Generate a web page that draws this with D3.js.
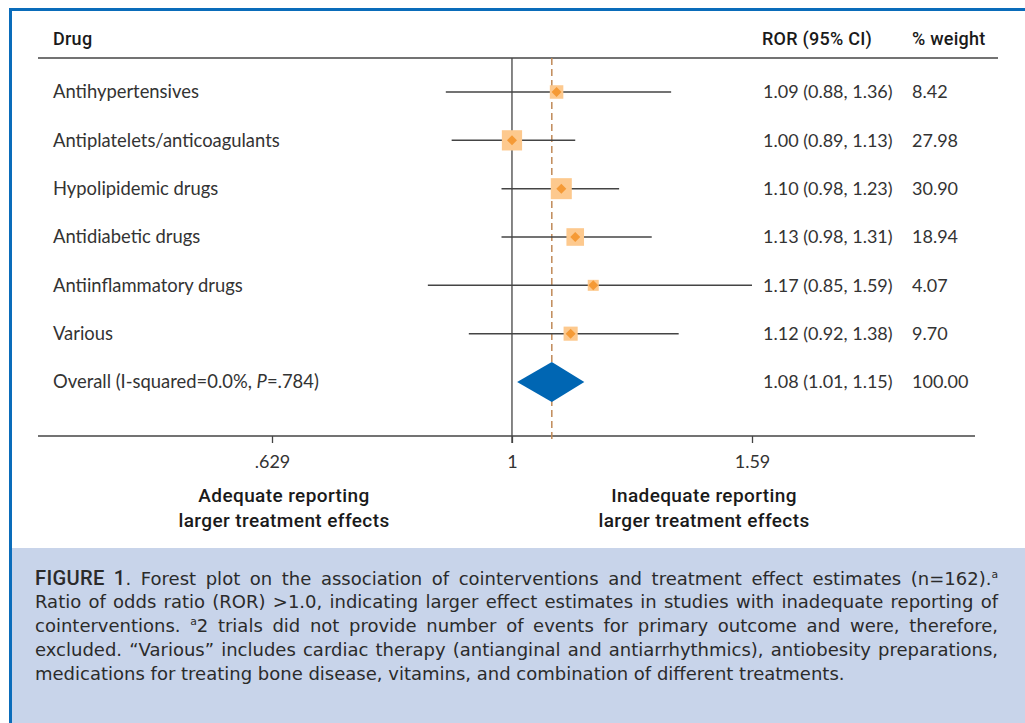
<!DOCTYPE html>
<html>
<head>
<meta charset="utf-8">
<script src="https://cdn.jsdelivr.net/npm/d3@7"></script>
<style>
  body { margin: 0; background: #fff; }
  #wrap { position: relative; width: 1025px; height: 723px; overflow: hidden; }
  svg { position: absolute; left: 0; top: 0; }
  .caption { position: absolute; left: 35px; top: 566px; width: 963px;
    font-family: "DejaVu Sans", "Open Sans", sans-serif; font-size: 17px; line-height: 24px; color: #2b2b2b; }
  .caption div { text-align: justify; text-align-last: justify; white-space: nowrap; height: 24px; }
  .caption div.last { text-align-last: left; }
  .caption.measure div { text-align: left; text-align-last: left; }
  .caption b { font-family: Roboto, sans-serif; font-weight: 500; font-size: 1.12em; letter-spacing: 0.3px; }
  .caption sup { font-size: 0.6em; line-height: 0; }
</style>
</head>
<body>
<div id="wrap">
  <div class="caption measure">
    <div><span class="w"><b>FIGURE 1</b>. Forest plot on the association of cointerventions and treatment effect estimates (n=162).<sup>a</sup></span></div>
    <div><span class="w">Ratio of odds ratio (ROR) &gt;1.0, indicating larger effect estimates in studies with inadequate reporting of</span></div>
    <div><span class="w">cointerventions. <sup>a</sup>2 trials did not provide number of events for primary outcome and were, therefore,</span></div>
    <div><span class="w">excluded. “Various” includes cardiac therapy (antianginal and antiarrhythmics), antiobesity preparations,</span></div>
    <div class="last"><span class="w">medications for treating bone disease, vitamins, and combination of different treatments.</span></div>
  </div>
</div>
<script>
var drugs = ["Antihypertensives", "Antiplatelets/anticoagulants", "Hypolipidemic drugs",
             "Antidiabetic drugs", "Antiinflammatory drugs", "Various"];
var ror    = [1.09, 1.00, 1.10, 1.13, 1.17, 1.12];
var lower  = [0.88, 0.89, 0.98, 0.98, 0.85, 0.92];
var upper  = [1.36, 1.13, 1.23, 1.31, 1.59, 1.38];
var weight = ["8.42", "27.98", "30.90", "18.94", "4.07", "9.70"];

var overall = {label: "Overall (I-squared=0.0%, P=.784)", ror: 1.08, lower: 1.01, upper: 1.15, weight: "100.00"};

var tickValues = [0.629, 1, 1.59];
var tickLabels = [".629", "1", "1.59"];

var fmt = d3.format(".2f");
var txtFont = "Lato, 'Open Sans', sans-serif";
var headFont = "Roboto, sans-serif";

// size caption so its longest line just fits the justified block (measured unjustified)
var widest = d3.max(document.querySelectorAll(".caption span.w"), function (s) {
    return s.getBoundingClientRect().width;
});
d3.select(".caption").style("font-size", Math.min(18.5, 17 * 950 / widest) + "px")
    .classed("measure", false);

var svg = d3.select("#wrap").insert("svg", ".caption")
    .attr("width", 1025)
    .attr("height", 723);

// frame + caption background
svg.append("rect").attr("x", 11).attr("y", 548).attr("width", 1014).attr("height", 175).attr("fill", "#c8d4ea");
svg.append("rect").attr("x", 9).attr("y", 8).attr("width", 1016).attr("height", 3).attr("fill", "#0a6cba");
svg.append("rect").attr("x", 9).attr("y", 8).attr("width", 3).attr("height", 715).attr("fill", "#0a6cba");

var x = d3.scaleLog().domain([0.629, 1.59]).range([272, 752]);
var y = d3.scaleLinear().domain([0, 6]).range([92, 382]);
var box = d3.scaleSqrt().domain([4.07, 30.9]).range([11, 21]);

// headers
var head = svg.append("g").attr("font-family", headFont).attr("font-weight", 500)
    .attr("font-size", 18).attr("fill", "#1a1a1a").attr("letter-spacing", 0.25);
head.append("text").attr("x", 53).attr("y", 45).text("Drug");
head.append("text").attr("x", 762).attr("y", 45).text("ROR (95% CI)");
head.append("text").attr("x", 912).attr("y", 45).text("% weight");

svg.append("line").attr("x1", 38).attr("x2", 998).attr("y1", 58).attr("y2", 58)
    .attr("stroke", "#444").attr("stroke-width", 1.3);

// axis
var axis = svg.append("g").attr("transform", "translate(0,436)")
    .call(d3.axisBottom(x).tickValues(tickValues)
        .tickFormat(function (d, i) { return tickLabels[i]; })
        .tickSize(7).tickSizeOuter(0));
axis.select(".domain").remove();
axis.append("line").attr("x1", 38).attr("x2", 975).attr("stroke", "#444").attr("stroke-width", 1.3);
axis.selectAll(".tick line").attr("stroke", "#444").attr("stroke-width", 1.3);
axis.selectAll(".tick text").attr("font-family", txtFont).attr("font-size", 18)
    .attr("fill", "#333").attr("y", 19).attr("dy", "0.71em");

// null line and overall line
svg.append("line").attr("x1", x(1)).attr("x2", x(1)).attr("y1", 58).attr("y2", 443)
    .attr("stroke", "#444").attr("stroke-width", 1.3);
svg.append("line").attr("x1", x(overall.ror)).attr("x2", x(overall.ror)).attr("y1", 58).attr("y2", 443)
    .attr("stroke", "#c08a58").attr("stroke-width", 1.5).attr("stroke-dasharray", "7,4");

// rows
var rows = svg.selectAll("g.row")
    .data(drugs)
    .enter().append("g").attr("class", "row");

rows.append("text")
    .attr("x", 53).attr("y", function (d, i) { return y(i); }).attr("dy", "0.35em")
    .attr("font-family", txtFont).attr("font-size", 18.4).attr("fill", "#333")
    .text(function (d) { return d; });

rows.append("line")
    .attr("x1", function (d, i) { return x(lower[i]); })
    .attr("x2", function (d, i) { return x(upper[i]); })
    .attr("y1", function (d, i) { return y(i); })
    .attr("y2", function (d, i) { return y(i); })
    .attr("stroke", "#444").attr("stroke-width", 1.5);

rows.append("rect")
    .attr("x", function (d, i) { return x(ror[i]) - box(+weight[i]) / 2; })
    .attr("y", function (d, i) { return y(i) - box(+weight[i]) / 2; })
    .attr("width", function (d, i) { return box(+weight[i]); })
    .attr("height", function (d, i) { return box(+weight[i]); })
    .attr("fill", "#fdc98e");

rows.append("path")
    .attr("transform", function (d, i) { return "translate(" + x(ror[i]) + "," + y(i) + ")"; })
    .attr("d", "M0,-5L5,0L0,5L-5,0Z")
    .attr("fill", "#f59a36");

rows.append("text")
    .attr("x", 763).attr("y", function (d, i) { return y(i); }).attr("dy", "0.35em")
    .attr("font-family", txtFont).attr("font-size", 18).attr("fill", "#333")
    .text(function (d, i) { return fmt(ror[i]) + " (" + fmt(lower[i]) + ", " + fmt(upper[i]) + ")"; });

rows.append("text")
    .attr("x", 912).attr("y", function (d, i) { return y(i); }).attr("dy", "0.35em")
    .attr("font-family", txtFont).attr("font-size", 18).attr("fill", "#333")
    .text(function (d, i) { return weight[i]; });

// overall row
var oy = y(drugs.length);
var ot = svg.append("text").attr("x", 53).attr("y", oy).attr("dy", "0.35em")
    .attr("font-family", txtFont).attr("font-size", 18.4).attr("fill", "#333");
ot.append("tspan").text("Overall (I-squared=0.0%, ");
ot.append("tspan").attr("font-style", "italic").text("P");
ot.append("tspan").text("=.784)");

svg.append("path")
    .attr("d", "M" + x(overall.lower) + "," + oy +
               "L" + x(overall.ror) + "," + (oy - 20) +
               "L" + x(overall.upper) + "," + oy +
               "L" + x(overall.ror) + "," + (oy + 20) + "Z")
    .attr("fill", "#0066b3");

svg.append("text").attr("x", 763).attr("y", oy).attr("dy", "0.35em")
    .attr("font-family", txtFont).attr("font-size", 18).attr("fill", "#333")
    .text(fmt(overall.ror) + " (" + fmt(overall.lower) + ", " + fmt(overall.upper) + ")");
svg.append("text").attr("x", 912).attr("y", oy).attr("dy", "0.35em")
    .attr("font-family", txtFont).attr("font-size", 18).attr("fill", "#333")
    .text(overall.weight);

// direction labels
var dir = svg.append("g").attr("font-family", headFont).attr("font-weight", 500)
    .attr("font-size", 19).attr("letter-spacing", 0.4).attr("fill", "#1a1a1a").attr("text-anchor", "middle");
dir.append("text").attr("x", 284).attr("y", 502).text("Adequate reporting");
dir.append("text").attr("x", 284).attr("y", 527).text("larger treatment effects");
dir.append("text").attr("x", 704).attr("y", 502).text("Inadequate reporting");
dir.append("text").attr("x", 704).attr("y", 527).text("larger treatment effects");
</script>
</body>
</html>
